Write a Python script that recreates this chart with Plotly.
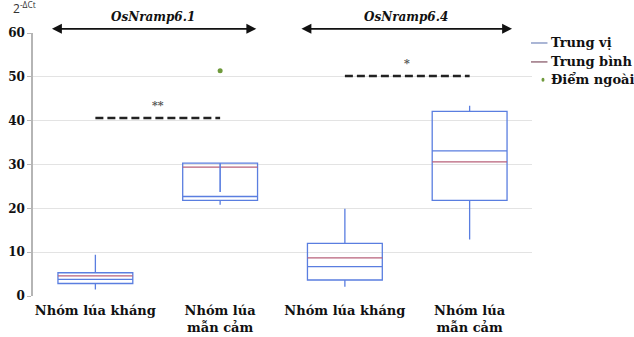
import plotly.graph_objects as go

# Groups along the x axis
groups = ["Nhóm lúa kháng", "Nhóm lúa<br>mẫn cảm", "Nhóm lúa kháng", "Nhóm lúa<br>mẫn cảm"]
positions = [0, 1, 2, 3]

# Box statistics of 2^-ΔCt per group
q1 = [2.85, 21.8, 3.65, 21.8]
median = [3.8, 22.7, 6.7, 33.1]
q3 = [5.3, 30.3, 12.0, 42.1]
whisker_low = [1.5, 20.8, 2.1, 12.9]
whisker_high = [9.4, 30.3, 19.9, 43.4]
mean = [4.6, 29.4, 8.7, 30.6]
inner_stem = [None, 23.7, None, None]

# Outliers
outlier_x = [1]
outlier_y = [51.4]

# Significance bars (between group pairs)
sig_pairs = [(0, 1), (2, 3)]
sig_level = [40.6, 50.2]
sig_label = ["**", "*"]

# Gene headings
genes = ["OsNramp6.1", "OsNramp6.4"]
gene_span = [(-0.36, 1.29), (1.64, 3.34)]

BOX_W = 0.6
BLUE = "#5a7ee0"
RED = "#b8607a"
SERIF = "DejaVu Serif, serif"

fig = go.Figure()

fig.add_trace(go.Box(
    x=positions, q1=q1, median=median, q3=q3,
    lowerfence=whisker_low, upperfence=whisker_high,
    width=BOX_W, whiskerwidth=0,
    line=dict(color=BLUE, width=1.3),
    fillcolor="rgba(255,255,255,0)",
    boxpoints=False, showlegend=False, hoverinfo="skip",
))

# Mean lines
for x, m in zip(positions, mean):
    fig.add_trace(go.Scatter(
        x=[x - BOX_W / 2, x + BOX_W / 2], y=[m, m], mode="lines",
        line=dict(color=RED, width=1.3), showlegend=False, hoverinfo="skip",
    ))

# Inner stem inside the box
for x, top, s in zip(positions, q3, inner_stem):
    if s is not None:
        fig.add_trace(go.Scatter(
            x=[x, x], y=[top, s], mode="lines",
            line=dict(color=BLUE, width=1.6), showlegend=False, hoverinfo="skip",
        ))

# Outliers
fig.add_trace(go.Scatter(
    x=outlier_x, y=outlier_y, mode="markers",
    marker=dict(color="#6f9a3c", size=5), showlegend=False, hoverinfo="skip",
))

# Significance dashed lines and stars
for (a, b), lvl, lab in zip(sig_pairs, sig_level, sig_label):
    fig.add_trace(go.Scatter(
        x=[a, b], y=[lvl, lvl], mode="lines",
        line=dict(color="#222222", width=2.6, dash="8px,4px"),
        showlegend=False, hoverinfo="skip",
    ))
    fig.add_annotation(
        x=(a + b) / 2, y=lvl + 2.9, text="<b>" + lab + "</b>", showarrow=False,
        font=dict(family=SERIF, size=11, color="#505050"),
    )

# Gene headings with double arrows
for name, (x0, x1) in zip(genes, gene_span):
    fig.add_annotation(
        x=x1, y=1.016, xref="x", yref="paper",
        ax=x0, ay=0, axref="x", ayref="pixel",
        text="", showarrow=True, arrowside="end+start",
        arrowhead=2, arrowsize=1.1, arrowwidth=1.8, arrowcolor="#111111",
    )
    fig.add_annotation(
        x=(x0 + x1) / 2, y=1.06, xref="x", yref="paper",
        text="<b><i>" + name + "</i></b>", showarrow=False,
        font=dict(family=SERIF, size=12, color="#111111"), yanchor="middle",
    )

# y-axis unit label
fig.add_annotation(
    x=-0.045, y=1.095, xref="paper", yref="paper",
    text="2<sup>-ΔCt</sup>", showarrow=False, xanchor="left", yanchor="middle",
    font=dict(family="Open Sans, sans-serif", size=12, color="#333333"),
)

# Legend drawn at the right
legend_items = [("Trung vị", "line", "#7d8fbf"), ("Trung bình", "line", "#8a5d6c"),
                ("Điểm ngoài", "dot", "#6f9a3c")]
leg_y = [0.962, 0.89, 0.822]
for (label, kind, col), yy in zip(legend_items, leg_y):
    if kind == "line":
        fig.add_shape(type="line", xref="paper", yref="paper",
                      x0=0.998, x1=1.031, y0=yy, y1=yy,
                      line=dict(color=col, width=1.3))
    else:
        fig.add_shape(type="circle", xref="paper", yref="paper",
                      x0=1.019, x1=1.025, y0=yy - 0.0075, y1=yy + 0.0075,
                      line=dict(width=0), fillcolor=col)
    fig.add_annotation(
        x=1.035, y=yy, xref="paper", yref="paper", text="<b>" + label + "</b>",
        showarrow=False, xanchor="left", yanchor="middle",
        font=dict(family=SERIF, size=13, color="#111111"),
    )

fig.update_layout(
    width=634, height=337,
    margin=dict(l=33, r=102, t=33, b=41),
    paper_bgcolor="white", plot_bgcolor="white",
    xaxis=dict(
        range=[-0.5, 3.5], tickvals=positions, ticktext=["<b>" + g + "</b>" for g in groups],
        showgrid=False, zeroline=False, showline=False, ticks="", automargin=False,
        ticklabelstandoff=5,
        tickfont=dict(family=SERIF, size=13, color="#111111"),
    ),
    yaxis=dict(
        range=[0, 60], tickvals=[0, 10, 20, 30, 40, 50, 60],
        ticktext=["<b>%d</b>" % v for v in [0, 10, 20, 30, 40, 50, 60]],
        showgrid=True, gridcolor="#e3e3e3", gridwidth=1, automargin=False,
        zeroline=False, showline=True, linecolor="#b5b5b5", linewidth=1.5,
        ticks="outside", ticklen=4, tickcolor="#b5b5b5",
        tickfont=dict(family=SERIF, size=12, color="#111111"),
    ),
)

fig.write_html("out.html")
